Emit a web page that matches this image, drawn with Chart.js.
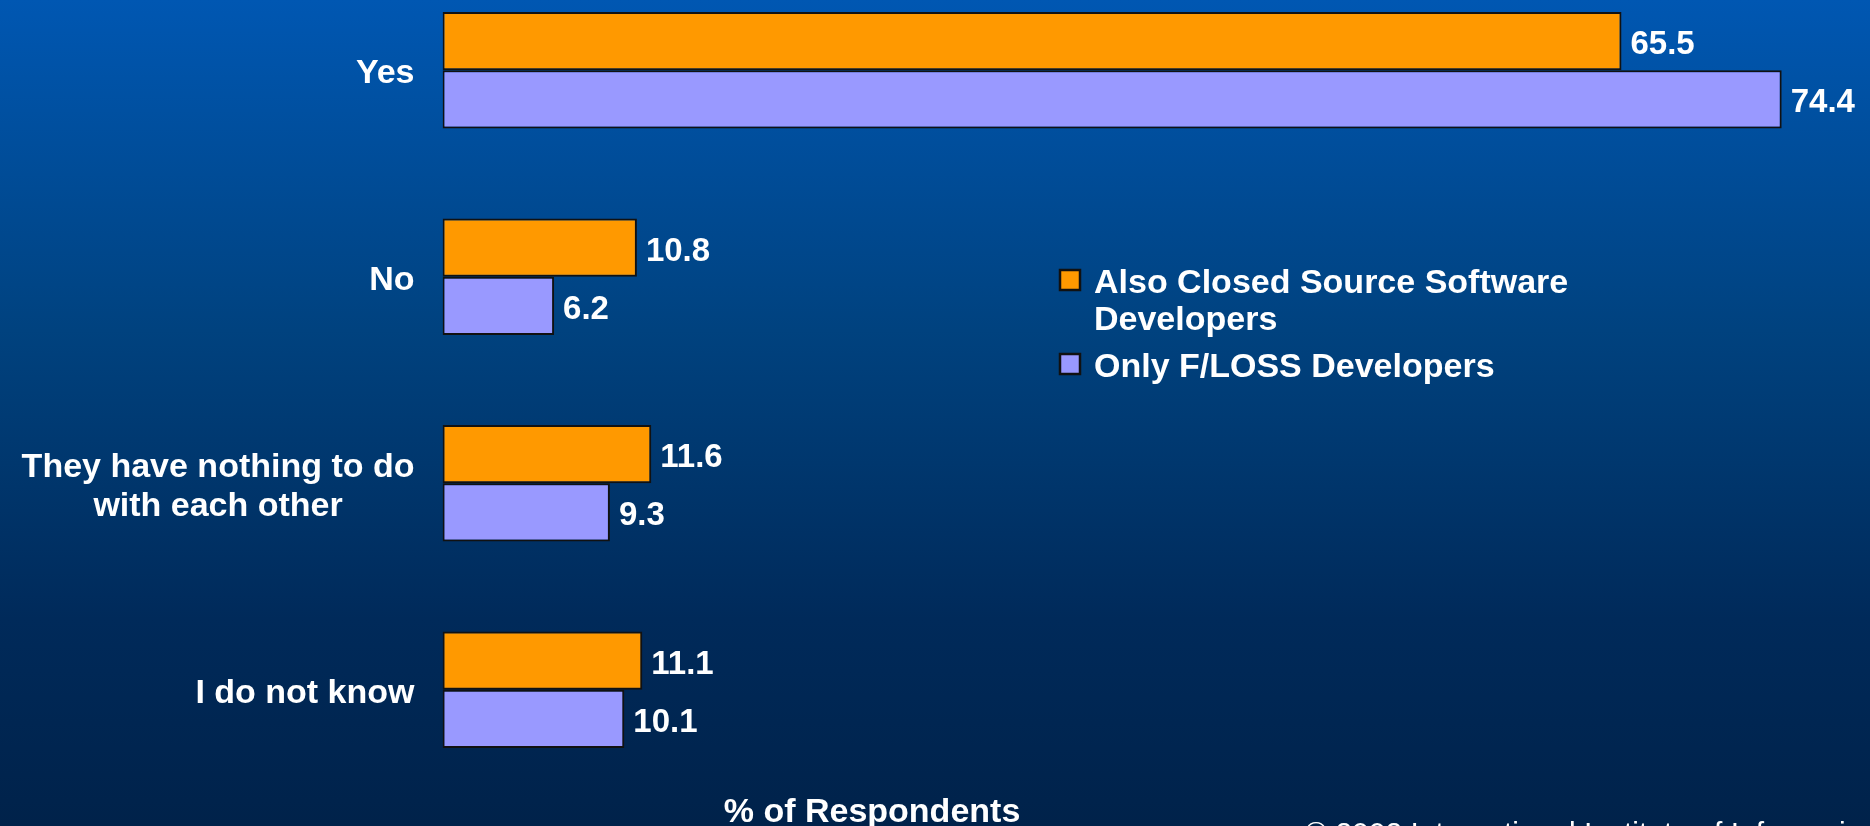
<!DOCTYPE html>
<html>
<head>
<meta charset="utf-8">
<title>F/LOSS developers survey</title>
<script src="https://cdn.jsdelivr.net/npm/chart.js@4.4.1/dist/chart.umd.min.js"></script>
<style>
  html, body { margin: 0; padding: 0; }
  body {
    width: 1870px; height: 826px; overflow: hidden; position: relative;
    background: linear-gradient(to bottom, #0057b2 0%, #00427f 40%, #002a5a 75%, #00224a 100%);
  }
  /* canvas is shifted up a bit: the slide was cropped at the top */
  #wrap { position: absolute; left: 0; top: -40px; width: 1870px; height: 866px; }
</style>
</head>
<body>
<div id="wrap"><canvas id="surveyChart"></canvas></div>
<script>
const categories = ['Yes', 'No', ['They have nothing to do', 'with each other'], 'I do not know'];
const alsoClosed = [65.5, 10.8, 11.6, 11.1];
const onlyFloss = [74.4, 6.2, 9.3, 10.1];
const seriesNames = ['Also Closed Source Software Developers', 'Only F/LOSS Developers'];
const legendLines = [['Also Closed Source Software', 'Developers'], ['Only F/LOSS Developers']];
const axisTitle = '% of Respondents';
const copyright = '\u00A9 2002 International Institute of Infonomics';

const OFF = 40; // page y + OFF = canvas y
const FONT = '"Liberation Sans", Arial, sans-serif';

const slideText = {
    id: 'slideText',
    afterDatasetsDraw(chart) {
        const ctx = chart.ctx;
        const yScale = chart.scales.y;
        ctx.save();
        ctx.fillStyle = '#ffffff';
        ctx.textBaseline = 'middle';

        // category labels, right aligned (multi-line ones centred on their block)
        ctx.font = 'bold 34px ' + FONT;
        const right = chart.chartArea.left - 28;
        categories.forEach((cat, i) => {
            const lines = Array.isArray(cat) ? cat : [cat];
            const cy = yScale.getPixelForValue(i) + 3.5;
            const w = Math.max(...lines.map(l => ctx.measureText(l).width));
            lines.forEach((line, k) => {
                const ly = cy + (k - (lines.length - 1) / 2) * 39;
                if (lines.length > 1) {
                    ctx.textAlign = 'center';
                    ctx.fillText(line, right - w / 2, ly);
                } else {
                    ctx.textAlign = 'right';
                    ctx.fillText(line, right, ly);
                }
            });
        });

        // value labels at the end of each bar
        ctx.textAlign = 'left';
        ctx.font = 'bold 33px ' + FONT;
        chart.data.datasets.forEach((ds, di) => {
            chart.getDatasetMeta(di).data.forEach((bar, i) => {
                ctx.fillText(ds.data[i].toFixed(1), bar.x + 9, bar.y + 4);
            });
        });

        // legend
        ctx.font = 'bold 34px ' + FONT;
        const legendY = [281, 365];
        chart.data.datasets.forEach((ds, di) => {
            const ty = legendY[di] + OFF;
            ctx.fillStyle = ds.backgroundColor;
            ctx.fillRect(1060, ty - 11, 20, 20);
            ctx.strokeStyle = '#111';
            ctx.lineWidth = 2.5;
            ctx.strokeRect(1060, ty - 11, 20, 20);
            ctx.fillStyle = '#ffffff';
            legendLines[di].forEach((line, k) => {
                ctx.fillText(line, 1094, ty + 3 + k * 37);
            });
        });

        // axis title and source line
        ctx.textBaseline = 'alphabetic';
        ctx.textAlign = 'center';
        ctx.fillText(axisTitle, 872, 822 + OFF);
        ctx.textAlign = 'left';
        ctx.font = '30px ' + FONT;
        ctx.fillText(copyright, 1305, 843 + OFF);
        ctx.restore();
    }
};

const ctx = document.getElementById('surveyChart').getContext('2d');
const surveyChart = new Chart(ctx, {
    type: 'bar',
    data: {
        labels: categories,
        datasets: [{
            label: seriesNames[0],
            data: alsoClosed,
            backgroundColor: '#ff9900',
            borderColor: '#111111',
            borderWidth: 2,
            borderSkipped: false
        }, {
            label: seriesNames[1],
            data: onlyFloss,
            backgroundColor: '#9999ff',
            borderColor: '#111111',
            borderWidth: 2,
            borderSkipped: false
        }]
    },
    plugins: [slideText],
    options: {
        indexAxis: 'y',
        responsive: true,
        maintainAspectRatio: false,
        animation: false,
        layout: { padding: { left: 442.5, right: 77.5, top: 7, bottom: 33 } },
        datasets: { bar: { categoryPercentage: 0.564, barPercentage: 1.0 } },
        scales: {
            x: { display: false, min: 0, max: 75 },
            y: { display: false }
        },
        plugins: {
            legend: { display: false },
            tooltip: { enabled: false }
        }
    }
});
</script>
</body>
</html>
